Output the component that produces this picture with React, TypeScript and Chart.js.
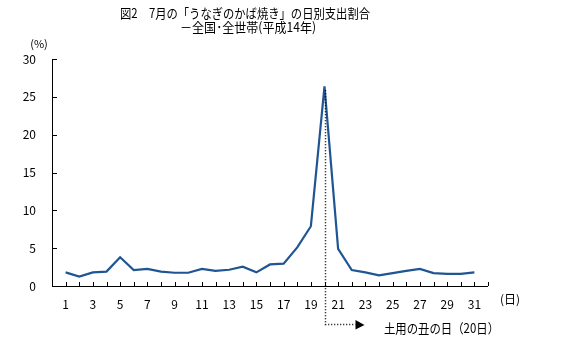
import React, { useEffect, useRef } from "react";
import { Chart, registerables } from "chart.js";

Chart.register(...registerables);

const titleLines = ["図2　7月の「うなぎのかば焼き」の日別支出割合", "－全国･全世帯(平成14年)"];
const days = [1, 2, 3, 4, 5, 6, 7, 8, 9, 10, 11, 12, 13, 14, 15, 16, 17, 18, 19, 20, 21, 22, 23, 24, 25, 26, 27, 28, 29, 30, 31];
const shares = [1.8, 1.25, 1.8, 1.9, 3.8, 2.1, 2.25, 1.9, 1.75, 1.75, 2.25, 2.0, 2.15, 2.55, 1.8, 2.85, 2.95, 5.1, 7.9, 26.4, 4.9, 2.1, 1.8, 1.4, 1.7, 2.0, 2.25, 1.7, 1.6, 1.6, 1.8];
const yTicks = [0, 5, 10, 15, 20, 25, 30];
const yUnit = "(%)";
const xUnit = "(日)";
const highlightDay = 20;
const highlightLabel = "土用の丑の日（20日）";

const FONT = "'Noto Sans CJK JP', 'Noto Sans', sans-serif";

const decorations = {
  id: "decorations",
  afterDraw(chart: any) {
    const ctx = chart.ctx as CanvasRenderingContext2D;
    const x = chart.scales.x;
    const y = chart.scales.y;
    const area = chart.chartArea;
    ctx.save();
    ctx.strokeStyle = "#000";
    ctx.lineWidth = 1;
    ctx.beginPath();
    ctx.moveTo(Math.round(area.left) + 0.5, area.top);
    ctx.lineTo(Math.round(area.left) + 0.5, Math.round(area.bottom) + 0.5);
    ctx.lineTo(area.right, Math.round(area.bottom) + 0.5);
    ctx.stroke();
    ctx.beginPath();
    for (const v of yTicks) {
      const py = Math.round(y.getPixelForValue(v)) + 0.5;
      ctx.moveTo(area.left, py);
      ctx.lineTo(area.left + 5, py);
    }
    for (let d = 1; d <= days.length + 1; d++) {
      const px = Math.round(x.getPixelForValue(d)) + 0.5;
      ctx.moveTo(px, area.bottom);
      ctx.lineTo(px, area.bottom - 4);
    }
    ctx.stroke();

    ctx.fillStyle = "#000";
    ctx.font = `11px ${FONT}`;
    ctx.textAlign = "center";
    ctx.textBaseline = "middle";
    ctx.fillText(yUnit, area.left - 13, area.top - 15);
    ctx.font = `12px ${FONT}`;
    ctx.textAlign = "left";
    ctx.fillText(xUnit, area.right + 12, 299);

    ctx.font = `13px ${FONT}`;
    ctx.textAlign = "center";
    ctx.fillText(titleLines[0], 245, 13, 250);
    ctx.fillText(titleLines[1], 248, 27, 136);

    const hx = Math.round(x.getPixelForValue(highlightDay)) + 0.5;
    const hy = y.getPixelForValue(shares[highlightDay - 1]) + 4;
    const ay = 324.5;
    ctx.setLineDash([1, 2]);
    ctx.lineWidth = 1.5;
    ctx.beginPath();
    ctx.moveTo(hx, hy);
    ctx.lineTo(hx, ay);
    ctx.lineTo(hx + 30, ay);
    ctx.stroke();
    ctx.setLineDash([]);
    ctx.beginPath();
    ctx.moveTo(hx + 30, ay - 4.5);
    ctx.lineTo(hx + 39, ay + 0.5);
    ctx.lineTo(hx + 30, ay + 5);
    ctx.closePath();
    ctx.fill();

    ctx.font = `13px ${FONT}`;
    ctx.textAlign = "left";
    ctx.fillText(highlightLabel, 384, 328, 115);
    ctx.restore();
  },
};

export default function App() {
  const ref = useRef<HTMLCanvasElement>(null);
  useEffect(() => {
    document.body.style.margin = "0";
    const canvas = ref.current!;
    const chart = new Chart(canvas, {
      type: "line",
      data: {
        datasets: [
          {
            data: days.map((d, i) => ({ x: d, y: shares[i] })),
            borderColor: "#1f5592",
            borderWidth: 2.2,
            pointRadius: 0,
            tension: 0,
          },
        ],
      },
      options: {
        animation: false,
        responsive: false,
        devicePixelRatio: 1,
        layout: { padding: { left: 0, top: 59, right: 88, bottom: 0 } },
        plugins: { legend: { display: false }, title: { display: false }, tooltip: { enabled: false } },
        scales: {
          x: {
            type: "linear",
            min: 0,
            max: days.length + 1,
            border: { display: false },
            grid: { display: false, drawTicks: false },
            afterFit(scale: any) {
              scale.height = 65;
            },
            afterBuildTicks(scale: any) {
              scale.ticks = days.filter((d) => d % 2 === 1).map((d) => ({ value: d }));
            },
            ticks: {
              autoSkip: false,
              maxRotation: 0,
              padding: 11,
              color: "#000",
              font: { family: FONT, size: 12 },
              callback: (v: any) => String(v),
            },
          },
          y: {
            min: 0,
            max: 30,
            border: { display: false },
            grid: { display: false, drawTicks: false },
            afterFit(scale: any) {
              scale.width = 52;
            },
            afterBuildTicks(scale: any) {
              scale.ticks = yTicks.map((v) => ({ value: v }));
            },
            ticks: {
              padding: 16,
              color: "#000",
              font: { family: FONT, size: 12 },
            },
          },
        },
      },
      plugins: [decorations],
    });
    return () => chart.destroy();
  }, []);
  return <canvas ref={ref} width={576} height={351} style={{ display: "block" }} />;
}
